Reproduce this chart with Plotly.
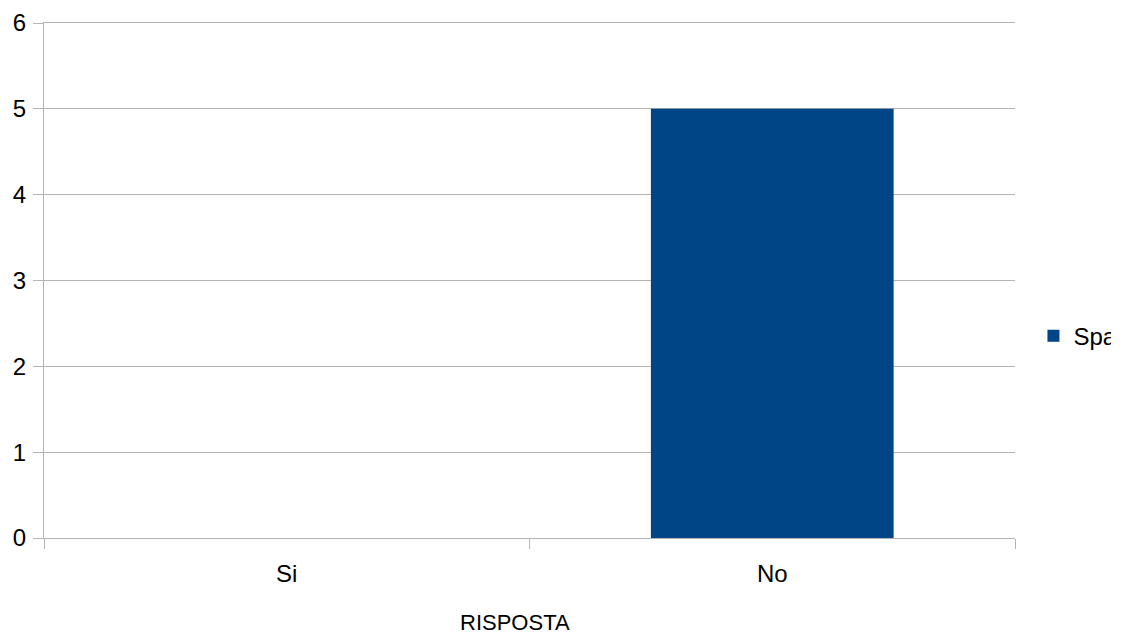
import plotly.graph_objects as go

categories = ["Si", "No"]
values = [0, 5]
series_name = "Spazio"
y_ticks = [0, 1, 2, 3, 4, 5, 6]
x_title = "RISPOSTA"

fig = go.Figure()
fig.add_trace(go.Bar(x=categories, y=values, name=series_name,
                     marker=dict(color="#004586", line=dict(width=0)),
                     showlegend=True))

fig.update_layout(
    width=1103, height=629,
    margin=dict(l=36, r=96, t=15, b=99, autoexpand=False),
    paper_bgcolor="white", plot_bgcolor="white",
    font=dict(family="Liberation Sans, Arial, sans-serif", size=24, color="#000000"),
    bargap=0.5,
    showlegend=True,
    legend=dict(x=1.019, y=0.392, xanchor="left", yanchor="middle",
                font=dict(size=24), bgcolor="rgba(0,0,0,0)"),
    annotations=[dict(text=x_title, xref="paper", yref="paper", x=0.485, y=-0.165,
                      xanchor="center", yanchor="middle", showarrow=False,
                      font=dict(size=22))],
)
fig.update_xaxes(type="category", tickson="boundaries", ticks="outside", ticklen=10,
                 tickcolor="#b3b3b3", showline=True, linecolor="#b3b3b3", mirror=True,
                 showgrid=False, zeroline=False, tickfont=dict(size=24),
                 ticklabelstandoff=14)
fig.update_yaxes(range=[0, 6], tickvals=y_ticks, ticks="outside", ticklen=10,
                 tickcolor="#b3b3b3", gridcolor="#b3b3b3", showline=True,
                 linecolor="#b3b3b3", zeroline=False, tickfont=dict(size=24),
                 ticklabelstandoff=2)

fig.write_html("out.html")
